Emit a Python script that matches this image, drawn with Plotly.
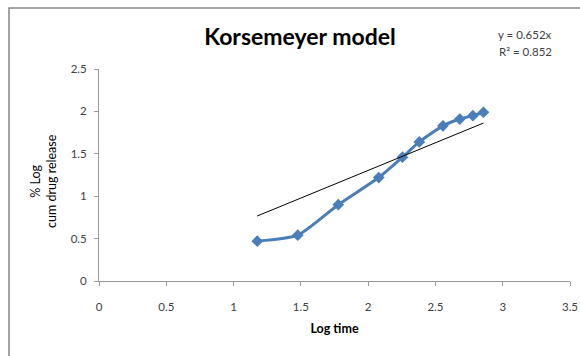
import plotly.graph_objects as go

log_time = [1.176, 1.477, 1.778, 2.079, 2.255, 2.380, 2.556, 2.681, 2.778, 2.857]
log_release = [0.47, 0.54, 0.90, 1.22, 1.46, 1.64, 1.83, 1.91, 1.95, 1.99]
slope = 0.652
r2 = 0.852
x_ticks = [0, 0.5, 1, 1.5, 2, 2.5, 3, 3.5]
y_ticks = [0, 0.5, 1, 1.5, 2, 2.5]

trend_x = [min(log_time), max(log_time)]
trend_y = [slope * v for v in trend_x]

FONT = "Lato"
fig = go.Figure()
fig.add_trace(go.Scatter(
    x=log_time, y=log_release, mode="lines+markers",
    line=dict(color="#4a7ebb", width=3, shape="spline", smoothing=0.6),
    marker=dict(symbol="diamond", size=9, color="#4a7ebb"),
    showlegend=False, hoverinfo="skip"))
fig.add_trace(go.Scatter(
    x=trend_x, y=trend_y, mode="lines",
    line=dict(color="#000000", width=1),
    showlegend=False, hoverinfo="skip"))

W, H = 580, 356
L, R, T, B = 99, 10, 69, 75
pw, ph = W - L - R, H - T - B

def px_x(p):
    return (p - L) / pw

def px_y(p):
    return (H - B - p) / ph

fig.update_layout(
    width=W, height=H,
    margin=dict(l=L, r=R, t=T, b=B, autoexpand=False),
    paper_bgcolor="white", plot_bgcolor="white",
    font=dict(family=FONT, size=11.5, color="#404040"),
    title=dict(text="<b>Korsemeyer model</b>", xref="container", x=300 / W, xanchor="center",
               yref="container", y=1 - 37 / H, yanchor="middle",
               font=dict(family=FONT, size=23, color="#000000")),
    xaxis=dict(range=[0, 3.5], tickvals=x_ticks, ticktext=[str(v) for v in x_ticks],
               showgrid=False, zeroline=False, showline=True, linecolor="#9a9a9a",
               linewidth=1, ticks="outside", ticklen=4, tickcolor="#9a9a9a",
               ticklabelstandoff=11, automargin=False,
               title=dict(text="<b>Log time</b>", standoff=12,
                          font=dict(family=FONT, size=12.5, color="#000000"))),
    yaxis=dict(range=[0, 2.5], tickvals=y_ticks, ticktext=[str(v) for v in y_ticks],
               showgrid=False, zeroline=False, showline=True, linecolor="#9a9a9a",
               linewidth=1, ticks="outside", ticklen=4, tickcolor="#9a9a9a",
               ticklabelstandoff=5, automargin=False),
    annotations=[
        dict(text="% Log<br>cum drug release", xref="paper", yref="paper",
             x=px_x(43), y=px_y(181), xanchor="center", yanchor="middle",
             textangle=-90, showarrow=False,
             font=dict(family=FONT, size=12.5, color="#000000")),
        dict(text="y = 0.652x", xref="paper", yref="paper",
             x=px_x(554), y=px_y(34), xanchor="right", yanchor="middle",
             showarrow=False, font=dict(family=FONT, size=11.5, color="#404040")),
        dict(text="R² = 0.852", xref="paper", yref="paper",
             x=px_x(554), y=px_y(52), xanchor="right", yanchor="middle",
             showarrow=False, font=dict(family=FONT, size=11.5, color="#404040")),
    ],
    shapes=[
        dict(type="rect", xref="paper", yref="paper",
             x0=px_x(9), x1=px_x(590), y0=px_y(370), y1=px_y(8),
             line=dict(color="#868686", width=1.5), fillcolor="rgba(0,0,0,0)",
             layer="below"),
    ],
)
fig.write_html("out.html")
